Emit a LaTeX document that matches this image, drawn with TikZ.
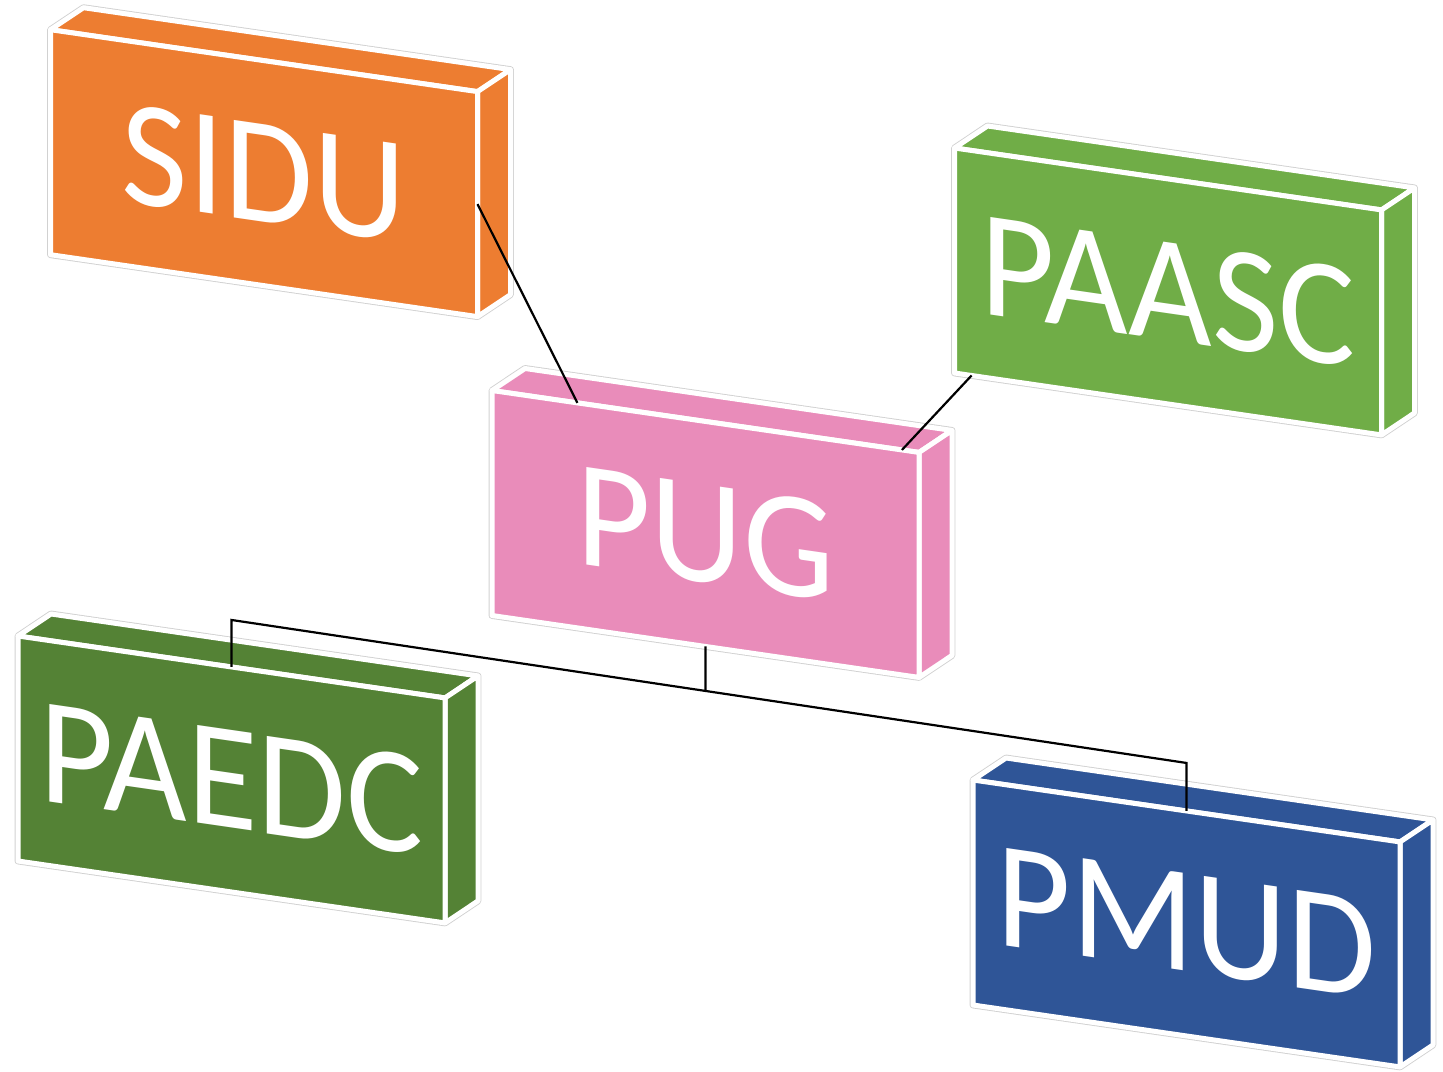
\documentclass[tikz,border=0pt]{standalone}
\usepackage{fontspec}
\setmainfont[FakeStretch=0.95]{Carlito}
\usetikzlibrary{calc}
\definecolor{siduorange}{HTML}{ED7D31}
\definecolor{paascgreen}{HTML}{70AD47}
\definecolor{pugpink}{HTML}{E98CBA}
\definecolor{paedcgreen}{HTML}{548235}
\definecolor{pmudblue}{HTML}{2F5597}

\begin{document}
\begin{tikzpicture}[x=1pt, y=-1pt,
    halo/.style={draw=black!18, line width=6.8pt, line join=round},
    boxside/.style={fill=#1, draw=white, line width=5pt, line join=round},
    boxface/.style={rectangle, fill=#1, draw=white, line width=5pt, line join=round,
        minimum width=427pt, minimum height=225pt, inner sep=0pt, outer sep=0pt,
        transform shape, text=white, font=\fontsize{152}{160}\selectfont},
    link/.style={draw=black, line width=2.2pt}]
    \useasboundingbox (0,0) rectangle (1443,1071);

    % Boxes (front face, top and right side)
    \foreach \name/\px/\py/\col/\lbl in {sidu/50.5/29.7/siduorange/SIDU,
            paasc/954.5/148/paascgreen/PAASC, pug/492/390.5/pugpink/PUG,
            paedc/18/636/paedcgreen/PAEDC, pmud/973/780/pmudblue/PMUD}
    {
        \begin{scope}[shift={(\px,\py)}, yslant=-0.145]
            \draw[halo] (0,225) -- (0,0) -- (33,-26.8) -- (460,-26.8) -- (460,198.2) -- (427,225) -- cycle;
            \draw[boxside=\col] (0,0) -- (33,-26.8) -- (460,-26.8) -- (427,0) -- cycle;
            \draw[boxside=\col] (427,0) -- (460,-26.8) -- (460,198.2) -- (427,225) -- cycle;
            \node[boxface=\col] (\name) at (213.5,112.5) {\lbl};
        \end{scope}
    }

    % Links to PUG
    \draw[link] (sidu.east) -- ($(pug.north west)!0.2!(pug.north east)$);
    \draw[link] ($(paasc.south west)!0.04!(paasc.south east)$) -- ($(pug.north west)!0.96!(pug.north east)$);

    % Tree below PUG
    \coordinate (busL) at ($(paedc.north)+(0,-47)$);
    \coordinate (busR) at ($(pmud.north)+(0,-48)$);
    \coordinate (pugdown) at ($(pug.south)+(0,80)$);
    \coordinate (busM) at (intersection of pug.south--pugdown and busL--busR);
    \draw[link] (paedc.north) -- (busL) -- (busR) -- (pmud.north);
    \draw[link] (pug.south) -- (busM);
\end{tikzpicture}
\end{document}
